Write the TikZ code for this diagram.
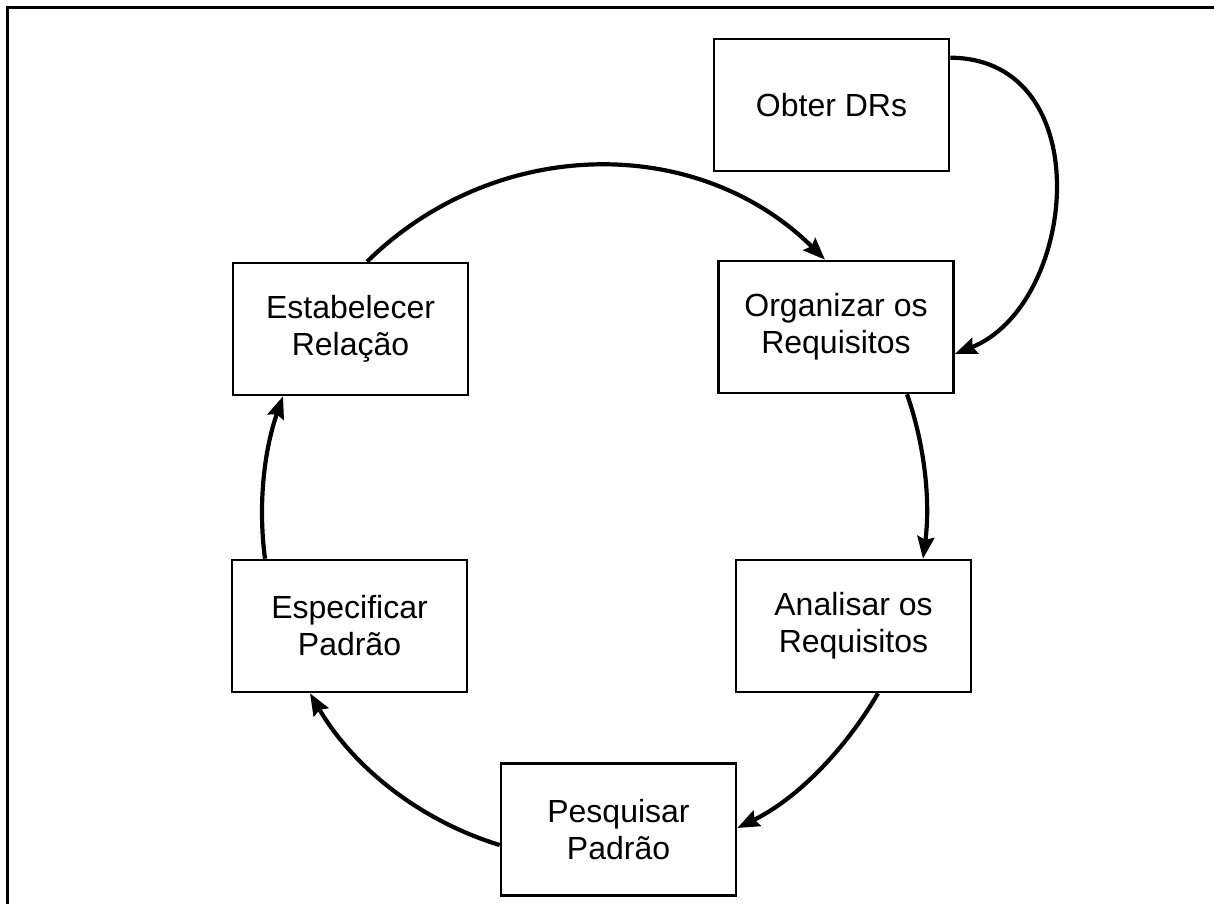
\documentclass[tikz,border=0pt]{standalone}
\usepackage{fontspec}
\setmainfont{Liberation Sans}
\usetikzlibrary{arrows.meta}

\begin{document}
\begin{tikzpicture}[x=1pt,y=1pt,
  stepbox/.style={draw, line width=2.6pt, minimum width=235pt, minimum height=132pt,
    inner sep=0pt, align=center, font=\fontsize{32}{37}\selectfont},
  conn/.style={line width=4.2pt, -{Stealth[length=22pt,width=17pt,inset=3pt]}},
  frameline/.style={line width=3pt}]
  \useasboundingbox (0,0) rectangle (1214,904);

  % page frame (top and left edges)
  \draw[frameline] (7,0) -- (7,896) -- (1214,896);

  % process steps
  \node[stepbox] (obter)       at (831.5,799)   {Obter DRs};
  \node[stepbox] (organizar)   at (836,577)     {Organizar os\\Requisitos};
  \node[stepbox] (estab)       at (350.5,575)   {Estabelecer\\Relação};
  \node[stepbox] (analisar)    at (853.5,278)   {Analisar os\\Requisitos};
  \node[stepbox] (pesquisar)   at (618.5,74.5)  {Pesquisar\\Padrão};
  \node[stepbox] (especificar) at (349.5,278)   {Especificar\\Padrão};

  % entry into the cycle
  \draw[conn] ([yshift=-20pt]obter.north east)
    .. controls +(150,-1) and +(123,49) .. ([yshift=-27pt]organizar.east);

  % the cycle: arcs of one ellipse (a = 332, b = 345)
  \draw[conn] ([xshift=16.5pt]estab.north)
    .. controls +(43.4:176.6pt and 183.5pt) and +(136.4:176.6pt and 183.5pt)
    .. ([xshift=-11pt]organizar.north);
  \draw[conn] ([xshift=71pt]organizar.south)
    .. controls +(-70:54pt and 56pt) and +(82.2:54pt and 56pt)
    .. ([xshift=69.5pt]analisar.north);
  \draw[conn] ([xshift=24.5pt]analisar.south)
    .. controls +(-121.3:65.2pt and 67.7pt) and +(25.2:65.2pt and 67.7pt)
    .. ([yshift=1.5pt]pesquisar.east);
  \draw[conn] ([yshift=-15.5pt]pesquisar.west)
    .. controls +(163.7:83pt and 86.3pt) and +(-58.8:83pt and 86.3pt)
    .. ([xshift=-39.5pt]especificar.south);
  \draw[conn] ([xshift=-84.5pt]especificar.north)
    .. controls +(97.8:54pt and 56pt) and +(250:54pt and 56pt)
    .. ([xshift=-67.5pt]estab.south);
\end{tikzpicture}
\end{document}
